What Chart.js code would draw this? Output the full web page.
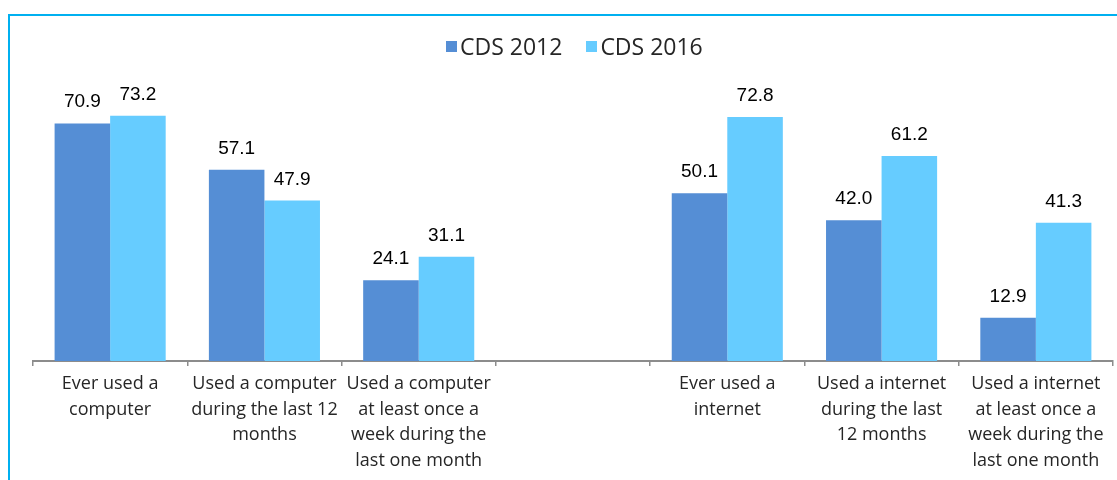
<!DOCTYPE html>
<html>
<head>
<meta charset="utf-8">
<script src="https://cdn.jsdelivr.net/npm/chart.js@4.4.0/dist/chart.umd.min.js"></script>
<style>
  html, body { margin: 0; padding: 0; background: #fff; overflow: hidden; }
  #wrap { position: relative; width: 1117px; height: 480px; overflow: hidden; }
  #frame { position: absolute; left: 8px; top: 14px; width: 1200px; height: 600px; border: 2px solid #00B0F0; }
  #chart { position: absolute; left: 0; top: 0; }
  #legend { position: absolute; left: 446px; top: 35px; display: flex; font-family: "Open Sans", sans-serif; font-size: 23px; line-height: 23px; color: #262626; }
  .item { display: flex; align-items: center; margin-right: 24px; }
  .box { width: 11px; height: 11px; margin-right: 3px; }
</style>
</head>
<body>
<div id="wrap">
  <div id="frame"></div>
  <canvas id="chart" width="1117" height="480"></canvas>
  <div id="legend"></div>
</div>
<script>
// categories (the empty one is the gap between the computer and internet groups)
const categories = [
  ["Ever used a", "computer"],
  ["Used a computer", "during the last 12", "months"],
  ["Used a computer", "at least once a", "week during the", "last one month"],
  "",
  ["Ever used a", "internet"],
  ["Used a internet", "during the last", "12 months"],
  ["Used a internet", "at least once a", "week during the", "last one month"]
];
const seriesNames = ["CDS 2012", "CDS 2016"];
const cds2012 = [70.9, 57.1, 24.1, null, 50.1, 42.0, 12.9];
const cds2016 = [73.2, 47.9, 31.1, null, 72.8, 61.2, 41.3];
const colors = ["#558ED5", "#66CCFF"];

// html legend
const legend = document.getElementById("legend");
seriesNames.forEach((name, i) => {
  legend.innerHTML += `<div class="item"><div class="box" style="background:${colors[i]}"></div><span>${name}</span></div>`;
});

const valueLabels = {
  id: "valueLabels",
  afterDatasetsDraw(chart) {
    const ctx = chart.ctx;
    ctx.save();
    ctx.font = "19px 'Liberation Sans', Arial, sans-serif";
    ctx.fillStyle = "#000";
    ctx.textAlign = "center";
    ctx.textBaseline = "alphabetic";
    chart.data.datasets.forEach((ds, di) => {
      chart.getDatasetMeta(di).data.forEach((bar, i) => {
        const v = ds.data[i];
        if (v == null) return;
        ctx.fillText(v.toFixed(1), bar.x, bar.y - 16);
      });
    });
    ctx.restore();
  }
};

new Chart(document.getElementById("chart"), {
  type: "bar",
  data: {
    labels: categories,
    datasets: [
      { label: seriesNames[0], data: cds2012, backgroundColor: colors[0] },
      { label: seriesNames[1], data: cds2016, backgroundColor: colors[1] }
    ]
  },
  options: {
    responsive: false,
    animation: false,
    events: [],
    layout: { padding: { left: 33, right: 4, top: 93, bottom: 0 } },
    datasets: { bar: { categoryPercentage: 0.72, barPercentage: 1 } },
    plugins: { legend: { display: false }, tooltip: { enabled: false } },
    scales: {
      x: {
        afterFit: (scale) => { scale.height = 119; },
        grid: { drawOnChartArea: false, drawTicks: true, tickLength: 5, color: "#8c8c8c", lineWidth: 1.5 },
        border: { color: "#8c8c8c", width: 2 },
        ticks: {
          padding: 5,
          maxRotation: 0,
          autoSkip: false,
          color: "#262626",
          font: { family: "'Open Sans', sans-serif", size: 18, lineHeight: 1.43 }
        }
      },
      y: { display: false, min: 0, max: 80 }
    }
  },
  plugins: [valueLabels]
});
</script>
</body>
</html>
